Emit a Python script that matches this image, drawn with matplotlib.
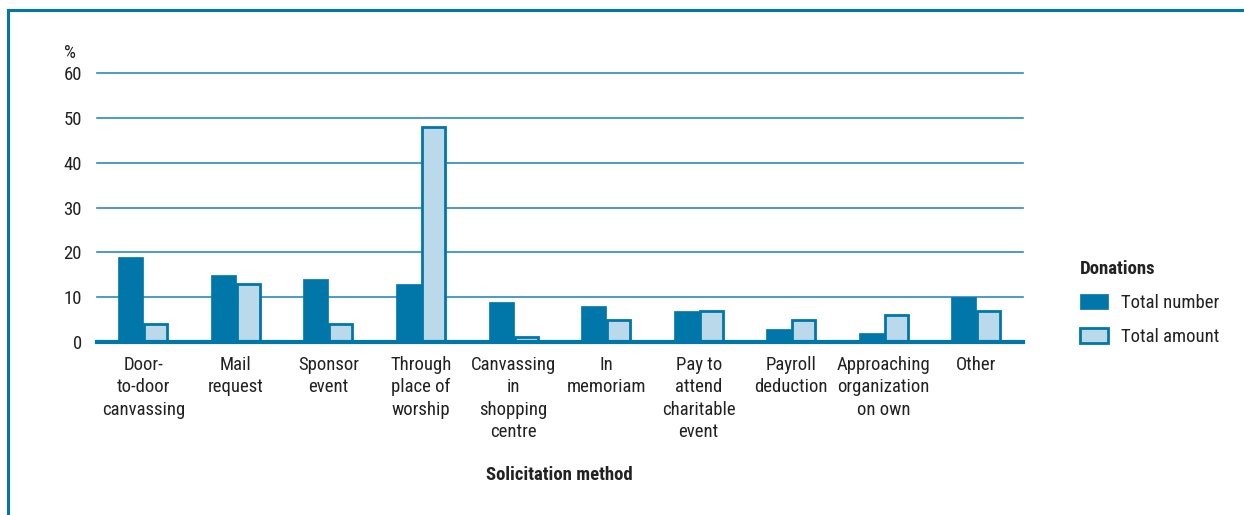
import matplotlib
matplotlib.use("Agg")
import matplotlib.pyplot as plt
import numpy as np
from matplotlib.patches import Patch
from matplotlib.lines import Line2D

plt.rcParams['font.family'] = ['Roboto Condensed', 'Liberation Sans Narrow', 'DejaVu Sans Condensed', 'Roboto', 'DejaVu Sans']
plt.rcParams['font.stretch'] = 'condensed'

categories = ["Door-\nto-door\ncanvassing", "Mail\nrequest", "Sponsor\nevent",
              "Through\nplace of\nworship", "Canvassing\nin\nshopping\ncentre",
              "In\nmemoriam", "Pay to\nattend\ncharitable\nevent", "Payroll\ndeduction",
              "Approaching\norganization\non own", "Other"]
total_number = [19, 15, 14, 13, 9, 8, 7, 3, 2, 10]
total_amount = [4, 13, 4, 48, 1, 5, 7, 5, 6, 7]
yticks = [0, 10, 20, 30, 40, 50, 60]

dark = "#0077a8"
light = "#bad9ea"
grid_col = "#2a8bbd"
txt = "#222222"
fs = 13.5

fig = plt.figure(figsize=(12.44, 5.15), dpi=100)
ax = fig.add_axes([0.078, 0.336, 0.744, 0.522])

x = np.arange(len(categories))
w = 0.27
ax.bar(x - w / 2, total_number, w, color=dark, edgecolor=dark, linewidth=0.5, zorder=3)
ax.bar(x + w / 2, total_amount, w * 0.92, color=light, edgecolor=dark, linewidth=2.0, zorder=3)

for t in yticks[1:]:
    ax.axhline(t, color=grid_col, lw=1.2, zorder=1, clip_on=False)
ax.axhline(0, color=dark, lw=3, zorder=4, clip_on=False)

ax.set_xlim(-0.5, len(categories) - 0.5)
ax.set_ylim(0, 60)
ax.set_yticks(yticks)
ax.set_xticks(x)
ax.set_xticklabels(categories, fontsize=fs, linespacing=1.32)
ax.tick_params(axis='both', length=0, labelsize=fs, colors=txt)
ax.tick_params(axis='y', pad=11)
ax.tick_params(axis='x', pad=10)
for s in ax.spines.values():
    s.set_visible(False)

ax.text(-0.036, 1.04, "%", transform=ax.transAxes, fontsize=fs, color=txt, ha='left', va='bottom')
ax.set_xlabel("Solicitation method", fontsize=fs, fontweight='bold', labelpad=18, color=txt)

handles = [Patch(facecolor=dark, edgecolor=dark, linewidth=0.5),
           Patch(facecolor=light, edgecolor=dark, linewidth=2.0)]
leg = fig.legend(handles, ["Total number", "Total amount"], title="Donations",
                 loc='upper left', bbox_to_anchor=(0.862, 0.51), frameon=False,
                 fontsize=fs, title_fontproperties={'weight': 'bold', 'size': fs},
                 alignment='left', handlelength=1.5, handleheight=0.85, labelspacing=0.85,
                 handletextpad=0.7, borderaxespad=0)
for t in leg.get_texts():
    t.set_color(txt)
leg.get_title().set_color(txt)

# frame lines on top and left
fig.add_artist(Line2D([0.0065, 0.0065], [0, 0.98], color=dark, lw=2.2, transform=fig.transFigure))
fig.add_artist(Line2D([0.0065, 1.0], [0.98, 0.98], color=dark, lw=2.2, transform=fig.transFigure))

fig.savefig("out.png", dpi=100)
